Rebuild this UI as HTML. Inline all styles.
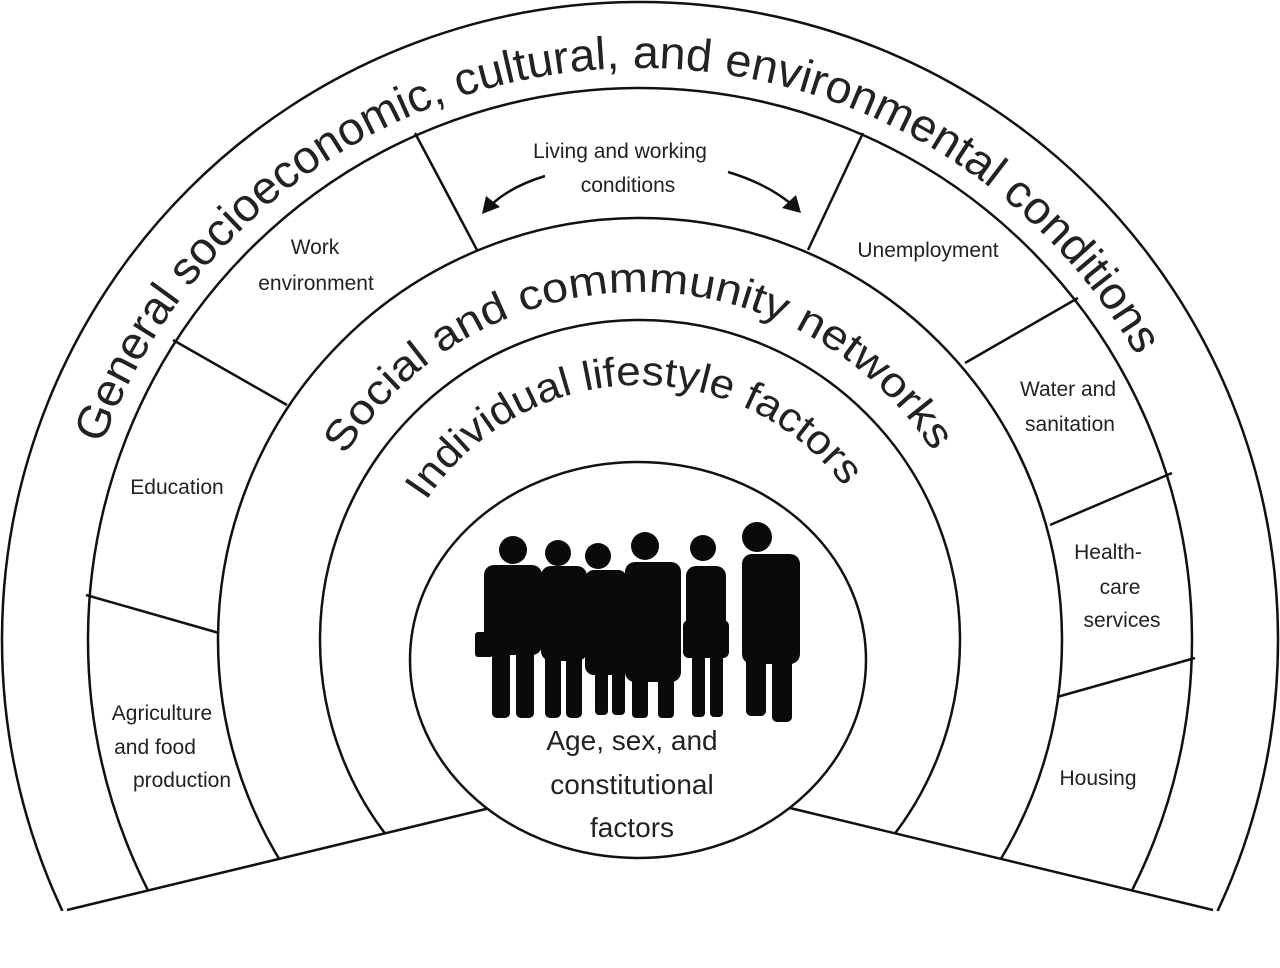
<!DOCTYPE html>
<html><head><meta charset="utf-8"><style>
html,body{margin:0;padding:0;background:#fff;overflow:hidden;width:1280px;height:968px;}
svg{display:block;}
text{font-family:"Liberation Sans",sans-serif;fill:#222;}
</style></head><body>
<svg width="1280" height="968" viewBox="0 0 1280 968" xmlns="http://www.w3.org/2000/svg">
<defs>
<clipPath id="c"><polygon points="0,0 1280,0 1280,926 640,771 0,926"/></clipPath>
<path id="pg" d="M102.5,444.4 A572,572 0 0 1 1140.3,362.7"/>
<path id="ps" d="M344.9,455.6 A348,348 0 0 1 935.1,455.6"/>
<path id="pi" d="M426.1,501.1 A255,255 0 0 1 848.9,493.7"/>
</defs>
<g fill="none" stroke="#111" stroke-width="2.5">
<g clip-path="url(#c)">
<circle cx="640" cy="640" r="638"/>
<circle cx="640" cy="640" r="552"/>
<circle cx="640" cy="640" r="422"/>
<circle cx="640" cy="640" r="320"/>
</g>
<line x1="67" y1="910" x2="490" y2="808"/>
<line x1="1213" y1="910" x2="790" y2="808"/>
<line x1="86" y1="595" x2="219" y2="633"/>
<line x1="173" y1="340" x2="287" y2="405"/>
<line x1="415" y1="133" x2="477" y2="250"/>
<line x1="863" y1="133" x2="808" y2="250"/>
<line x1="1078" y1="298" x2="965" y2="363"/>
<line x1="1172" y1="473" x2="1050" y2="525"/>
<line x1="1195" y1="658" x2="1057" y2="697"/>
<ellipse cx="638" cy="660" rx="228" ry="198" fill="#fff"/>
<path d="M545,176 Q512,186 492,204"/>
<path d="M728,172 Q765,183 790,203"/>
</g>
<polygon points="482,214 486,196 500,207" fill="#111"/>
<polygon points="801,213 782,208 796,195" fill="#111"/>
<text font-size="46"><textPath href="#pg" textLength="1300" lengthAdjust="spacingAndGlyphs">General socioeconomic, cultural, and environmental conditions</textPath></text>
<text font-size="42"><textPath href="#ps" textLength="700" lengthAdjust="spacingAndGlyphs">Social and commmunity networks</textPath></text>
<text font-size="41"><textPath href="#pi" textLength="490" lengthAdjust="spacingAndGlyphs">Individual lifestyle factors</textPath></text>
<g font-size="21" text-anchor="middle">
<text x="620" y="158">Living and working</text>
<text x="628" y="192">conditions</text>
<text x="315" y="254">Work</text>
<text x="316" y="290">environment</text>
<text x="928" y="257">Unemployment</text>
<text x="177" y="494">Education</text>
<text x="1068" y="396">Water and</text>
<text x="1070" y="431">sanitation</text>
<text x="1108" y="559">Health-</text>
<text x="1120" y="594">care</text>
<text x="1122" y="627">services</text>
<text x="1098" y="785">Housing</text>
<text x="162" y="720">Agriculture</text>
<text x="155" y="754">and food</text>
<text x="182" y="787">production</text>
</g>
<g font-size="28" text-anchor="middle">
<text x="632" y="750">Age, sex, and</text>
<text x="632" y="794">constitutional</text>
<text x="632" y="837">factors</text>
</g>
<g fill="#0a0a0a">
<circle cx="513" cy="550" r="14"/>
<rect x="484" y="565" width="58" height="90" rx="10"/>
<rect x="475" y="632" width="18" height="25" rx="3"/>
<rect x="492" y="640" width="18" height="78" rx="5"/>
<rect x="516" y="640" width="18" height="78" rx="5"/>
<circle cx="558" cy="553" r="13"/>
<rect x="541" y="566" width="46" height="95" rx="10"/>
<rect x="545" y="650" width="16" height="68" rx="5"/>
<rect x="566" y="650" width="16" height="68" rx="5"/>
<circle cx="598" cy="556" r="13"/>
<rect x="585" y="570" width="42" height="105" rx="9"/>
<rect x="595" y="665" width="13" height="50" rx="4"/>
<rect x="612" y="665" width="13" height="50" rx="4"/>
<circle cx="645" cy="546" r="14"/>
<rect x="625" y="562" width="56" height="120" rx="10"/>
<rect x="632" y="670" width="16" height="48" rx="4"/>
<rect x="658" y="670" width="16" height="48" rx="4"/>
<circle cx="703" cy="548" r="13"/>
<rect x="686" y="566" width="40" height="90" rx="10"/>
<rect x="683" y="620" width="46" height="38" rx="6"/>
<rect x="692" y="655" width="13" height="62" rx="4"/>
<rect x="710" y="655" width="13" height="62" rx="4"/>
<circle cx="757" cy="537" r="15"/>
<rect x="742" y="554" width="58" height="110" rx="10"/>
<rect x="746" y="650" width="20" height="66" rx="5"/>
<rect x="772" y="650" width="20" height="72" rx="5"/>
</g>
</svg>
</body></html>
